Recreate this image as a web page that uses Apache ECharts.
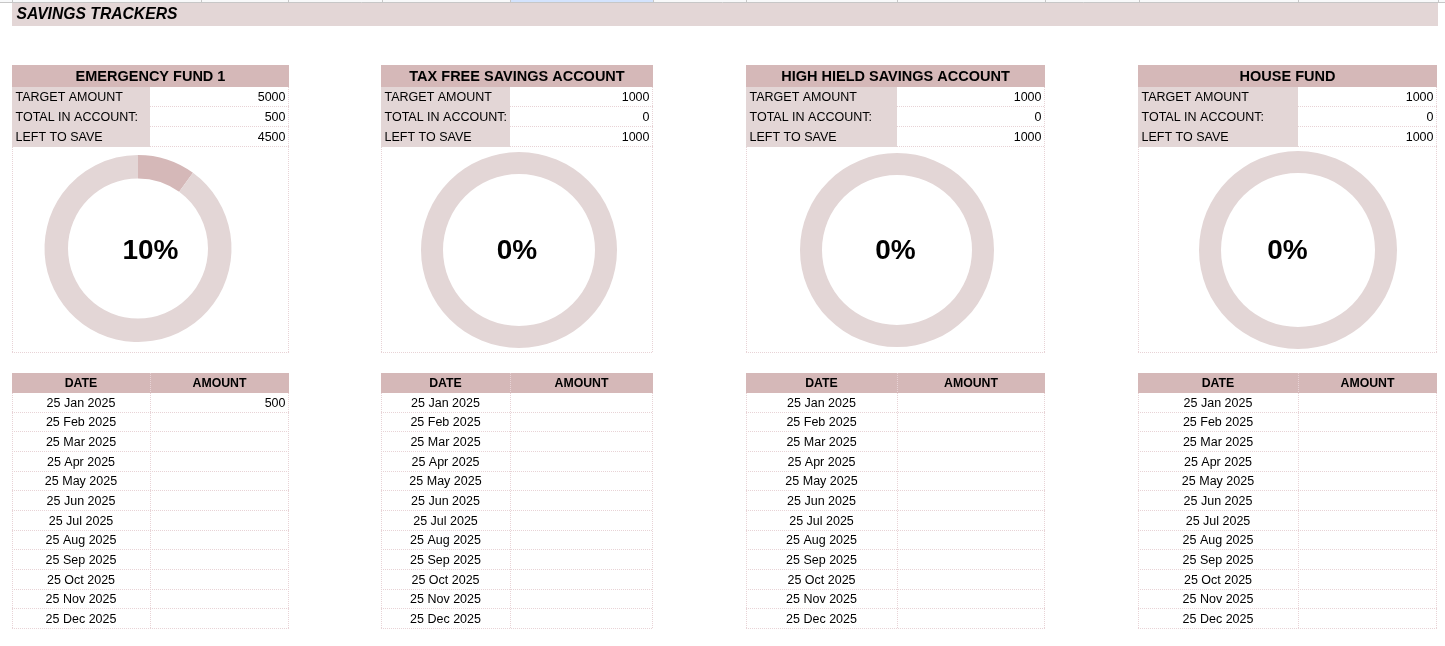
<!DOCTYPE html>
<html><head><meta charset="utf-8">
<script src="https://cdn.jsdelivr.net/npm/echarts@6/dist/echarts.min.js"></script>
<style>html,body{margin:0;padding:0;background:#fff}#c{width:1445px;height:646px}</style>
</head><body><div id="c"></div>
<script>
// ---------------- DATA ----------------
const pageTitle = 'SAVINGS TRACKERS';
const fundNames = ['EMERGENCY FUND 1', 'TAX FREE SAVINGS ACCOUNT', 'HIGH HIELD SAVINGS ACCOUNT', 'HOUSE FUND'];
const summaryLabels = ['TARGET AMOUNT', 'TOTAL IN ACCOUNT:', 'LEFT TO SAVE'];
const targetAmounts = [5000, 1000, 1000, 1000];
const totalsInAccount = [500, 0, 0, 0];
const leftToSave = [4500, 1000, 1000, 1000];
const tableHeaders = ['DATE', 'AMOUNT'];
const depositDates = ['25 Jan 2025', '25 Feb 2025', '25 Mar 2025', '25 Apr 2025', '25 May 2025', '25 Jun 2025',
  '25 Jul 2025', '25 Aug 2025', '25 Sep 2025', '25 Oct 2025', '25 Nov 2025', '25 Dec 2025'];
const depositsFund1 = [500, null, null, null, null, null, null, null, null, null, null, null];
const depositsFund2 = [null, null, null, null, null, null, null, null, null, null, null, null];
const depositsFund3 = [null, null, null, null, null, null, null, null, null, null, null, null];
const depositsFund4 = [null, null, null, null, null, null, null, null, null, null, null, null];
const deposits = [depositsFund1, depositsFund2, depositsFund3, depositsFund4];

// ---------------- LAYOUT / STYLE ----------------
const panels = [
  { x0: 12, xm: 150, x1: 289, cx: 138, cy: 248.5, r: 93.5, ri: 70 },
  { x0: 381, xm: 510, x1: 653, cx: 519, cy: 250, r: 98, ri: 76 },
  { x0: 746, xm: 897, x1: 1045, cx: 897, cy: 250, r: 97, ri: 75 },
  { x0: 1138, xm: 1298, x1: 1437, cx: 1298, cy: 250, r: 99, ri: 77 }
];
const DARK = '#d5b8b8', LIGHT = '#e3d6d6', DOT = '#e8d3d6', TXT = '#000000';
const FONT = '"Liberation Sans", Arial, sans-serif';
const HEAD_Y0 = 65, HEAD_Y1 = 87, ROW_H = 20, CHART_Y1 = 353;
const TBL_Y0 = 373, TBL_Y1 = 393, TROW_H = 19.65;

const g = [];
function rect(x, y, w, h, fill) {
  g.push({ type: 'rect', silent: true, shape: { x, y, width: w, height: h }, style: { fill } });
}
function dline(x1, y1, x2, y2) {
  g.push({ type: 'line', silent: true, shape: { x1, y1, x2, y2 },
    style: { stroke: DOT, lineWidth: 1, lineDash: [1, 1] } });
}
function sline(x1, y1, x2, y2, c) {
  g.push({ type: 'line', silent: true, shape: { x1, y1, x2, y2 }, style: { stroke: c, lineWidth: 1 } });
}
function text(t, x, y, font, align) {
  g.push({ type: 'text', silent: true, x, y,
    style: { text: t, font, fill: TXT, align, verticalAlign: 'middle', textAlign: align, textVerticalAlign: 'middle' } });
}

// top spreadsheet strip
rect(0, 0, 1445, 2.5, '#f8f9fa');
rect(510, 0, 143, 2.5, '#d3e3fd');
sline(0, 2.5, 1445, 2.5, '#c7c7c7');
[12, 201, 288, 382, 510, 653, 746, 897, 1045, 1139, 1298, 1438].forEach(x => sline(x + 0.5, 0, x + 0.5, 2.5, '#c7c7c7'));
// title bar
rect(12, 3, 1426, 23, LIGHT);
text(pageTitle, 16.5, 14.5, 'italic bold 15.7px ' + FONT, 'left');

const BODY = '12.5px ' + FONT;
const series = [];
panels.forEach((p, i) => {
  const w = p.x1 - p.x0;
  // header
  rect(p.x0, HEAD_Y0, w, HEAD_Y1 - HEAD_Y0, DARK);
  text(fundNames[i], (p.x0 + p.x1) / 2, (HEAD_Y0 + HEAD_Y1) / 2 + 0.5, 'bold 14.5px ' + FONT, 'center');
  // summary rows
  const vals = [targetAmounts[i], totalsInAccount[i], leftToSave[i]];
  rect(p.x0, HEAD_Y1, p.xm - p.x0, ROW_H * 3, LIGHT);
  for (let k = 0; k < 3; k++) {
    const y0 = HEAD_Y1 + k * ROW_H;
    text(summaryLabels[k], p.x0 + 3.5, y0 + ROW_H / 2 + 0.5, BODY, 'left');
    text(String(vals[k]), p.x1 - 3.5, y0 + ROW_H / 2 + 0.5, BODY, 'right');
    dline(p.xm, y0 + ROW_H - 0.5, p.x1, y0 + ROW_H - 0.5);
  }
  dline(p.x1 - 0.5, HEAD_Y1, p.x1 - 0.5, HEAD_Y1 + ROW_H * 3);
  // chart box
  const cy0 = HEAD_Y1 + ROW_H * 3;
  dline(p.x0 + 0.5, cy0, p.x0 + 0.5, CHART_Y1);
  dline(p.x1 - 0.5, cy0, p.x1 - 0.5, CHART_Y1);
  dline(p.x0, CHART_Y1 - 0.5, p.x1, CHART_Y1 - 0.5);
  series.push({
    type: 'pie', silent: true, animation: false,
    center: [p.cx, p.cy], radius: [p.ri, p.r],
    startAngle: 90, clockwise: true, avoidLabelOverlap: false,
    label: { show: false }, labelLine: { show: false }, emphasis: { disabled: true },
    itemStyle: { borderWidth: 0 },
    data: [
      { name: 'Total in account', value: totalsInAccount[i], itemStyle: { color: DARK } },
      { name: 'Left to save', value: leftToSave[i], itemStyle: { color: LIGHT } }
    ]
  });
  const pct = Math.round(totalsInAccount[i] / targetAmounts[i] * 100) + '%';
  text(pct, (p.x0 + p.x1) / 2, 251.5, 'bold 28px ' + FONT, 'center');

  // deposits table
  rect(p.x0, TBL_Y0, w, TBL_Y1 - TBL_Y0, DARK);
  text(tableHeaders[0], (p.x0 + p.xm) / 2, (TBL_Y0 + TBL_Y1) / 2 + 0.5, 'bold 12.3px ' + FONT, 'center');
  text(tableHeaders[1], (p.xm + p.x1) / 2, (TBL_Y0 + TBL_Y1) / 2 + 0.5, 'bold 12.3px ' + FONT, 'center');
  dline(p.xm + 0.5, TBL_Y0, p.xm + 0.5, TBL_Y1);
  const tEnd = TBL_Y1 + TROW_H * depositDates.length;
  dline(p.x0 + 0.5, TBL_Y1, p.x0 + 0.5, tEnd);
  dline(p.xm + 0.5, TBL_Y1, p.xm + 0.5, tEnd);
  dline(p.x1 - 0.5, TBL_Y1, p.x1 - 0.5, tEnd);
  depositDates.forEach((d, k) => {
    const y0 = TBL_Y1 + k * TROW_H;
    text(d, (p.x0 + p.xm) / 2, y0 + TROW_H / 2 + 0.5, BODY, 'center');
    const v = deposits[i][k];
    if (v !== null) text(String(v), p.x1 - 3.5, y0 + TROW_H / 2 + 0.5, BODY, 'right');
    dline(p.x0, Math.round(y0 + TROW_H) - 0.5, p.x1, Math.round(y0 + TROW_H) - 0.5);
  });
});

const chart = echarts.init(document.getElementById('c'), null, { renderer: 'canvas' });
chart.setOption({
  animation: false,
  backgroundColor: '#ffffff',
  series,
  graphic: { elements: g }
});
</script>
</body></html>
